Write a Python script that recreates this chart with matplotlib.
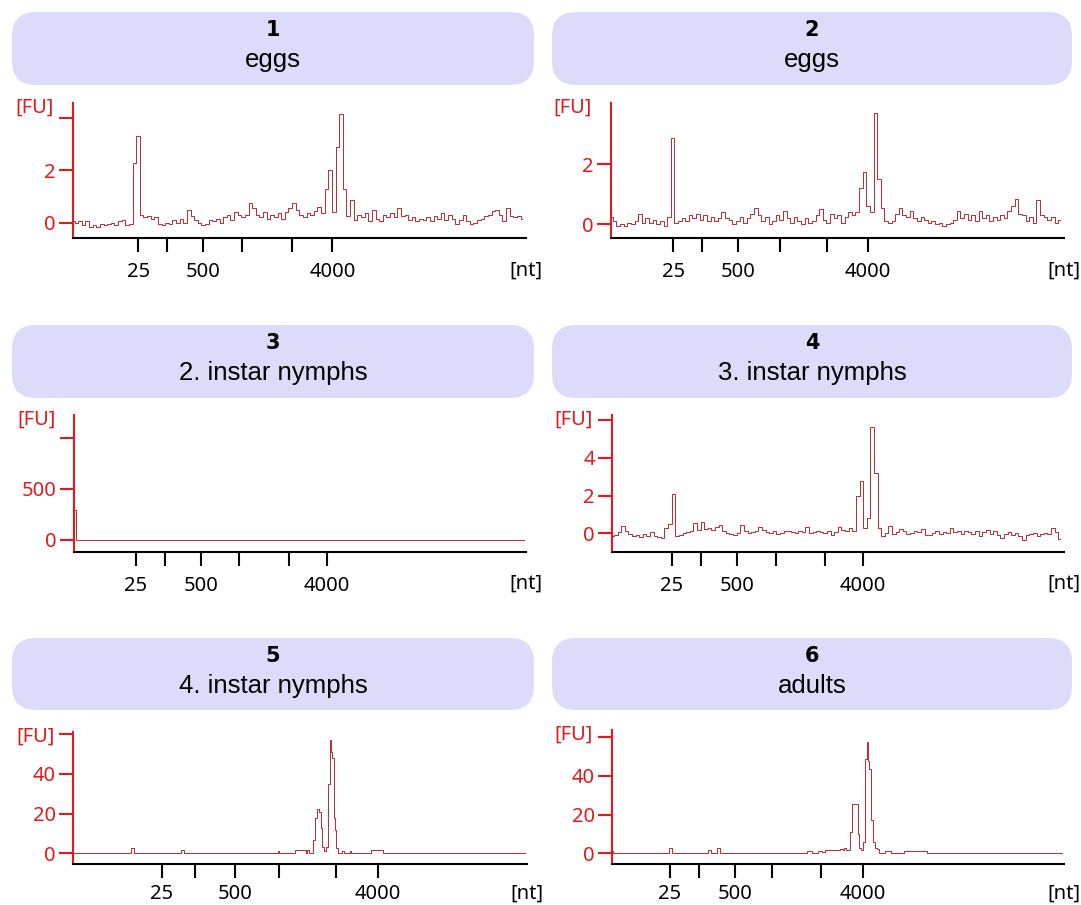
import numpy as np
import matplotlib.pyplot as plt
from matplotlib.patches import FancyBboxPatch

W, H = 1081, 905
RED = "#e3191f"
TRACE = "#bb2a34"

numbers = ["1", "2", "3", "4", "5", "6"]
titles = ["eggs", "eggs", "2. instar nymphs", "3. instar nymphs",
          "4. instar nymphs", "adults"]

# ladder ticks on the run axis (percent of run), labels 25 / 500 / 4000
xtick_labels = ["25", "", "500", "", "", "4000"]
xticks_1 = [14.5, 20.8, 28.8, 37.4, 48.3, 57.3]
xticks_2 = [13.8, 20.2, 28.1, 37.3, 47.7, 56.7]
xticks_3 = [13.6, 20.0, 28.0, 36.4, 47.5, 55.9]
xticks_4 = [13.2, 19.7, 27.6, 36.3, 47.2, 55.6]
xticks_5 = [19.5, 26.9, 35.7, 45.3, 57.9, 67.2]
xticks_6 = [12.8, 19.2, 27.1, 35.4, 46.2, 55.4]

# y axis ticks [FU]
yticks_1, ylabels_1 = [0, 2, 4], ["0", "2", ""]
yticks_2, ylabels_2 = [0, 2], ["0", "2"]
yticks_3, ylabels_3 = [0, 500, 1000], ["0", "500", ""]
yticks_4, ylabels_4 = [0, 2, 4, 6], ["0", "2", "4", ""]
yticks_5, ylabels_5 = [0, 20, 40, 60], ["0", "20", "40", ""]
yticks_6, ylabels_6 = [0, 20, 40, 60], ["0", "20", "40", ""]

# traces sampled every 0.8 % of run
STEP = 0.8
trace_1 = [0.05, 0.0, 0.05, -0.1, 0.05, -0.15, -0.1, -0.15, -0.05, -0.1,
           -0.05, 0.0, -0.1, 0.05, 0.1, -0.1, -0.05, 2.3, 3.3, 0.3,
           0.2, 0.25, 0.15, 0.2, -0.05, -0.1, 0.0, -0.05, 0.1, 0.0,
           0.15, 0.0, 0.5, 0.25, 0.1, 0.0, -0.1, -0.05, 0.1, 0.05,
           0.15, 0.0, 0.2, 0.3, 0.1, 0.4, 0.3, 0.2, 0.3, 0.75,
           0.55, 0.3, 0.2, 0.4, 0.15, 0.3, 0.2, 0.35, 0.15, 0.4,
           0.55, 0.75, 0.5, 0.3, 0.2, 0.35, 0.3, 0.45, 0.6, 0.35,
           1.3, 2.0, 0.4, 2.9, 4.15, 1.3, 0.25, 0.85, 0.1, 0.3,
           0.2, 0.35, 0.05, 0.5, 0.15, 0.05, 0.3, 0.2, 0.35, 0.2,
           0.55, 0.25, 0.3, 0.1, 0.2, 0.05, 0.15, 0.1, 0.2, 0.05,
           0.25, 0.15, 0.35, 0.1, 0.3, 0.15, -0.05, 0.1, 0.3, 0.05,
           -0.05, 0.0, 0.1, 0.15, 0.25, 0.3, 0.45, 0.5, 0.3, 0.05,
           0.55, 0.25, 0.2, 0.25, 0.15]
trace_2 = [0.25, 0.1, -0.05, 0.0, -0.05, 0.05, 0.0, 0.1, 0.35, 0.05,
           0.2, 0.05, 0.15, 0.0, 0.1, -0.05, 0.25, 2.85, 0.05, 0.1,
           0.2, 0.1, 0.3, 0.2, 0.35, 0.15, 0.3, 0.1, 0.25, 0.1,
           0.2, 0.4, 0.2, 0.15, 0.0, 0.1, 0.25, 0.05, 0.2, 0.35,
           0.55, 0.3, 0.1, 0.25, 0.0, 0.1, 0.3, 0.15, 0.45, 0.2,
           0.05, 0.25, 0.1, 0.0, 0.2, 0.05, 0.1, 0.3, 0.5, 0.15,
           0.05, 0.35, 0.2, 0.3, 0.05, 0.25, 0.4, 0.3, 0.4, 1.2,
           1.72, 0.6, 0.4, 3.7, 1.5, 0.55, 0.1, 0.05, 0.1, 0.35,
           0.55, 0.3, 0.25, 0.45, 0.2, 0.1, 0.25, 0.15, 0.05, 0.1,
           0.0, 0.05, -0.05, 0.0, 0.05, 0.15, 0.45, 0.2, 0.35, 0.15,
           0.3, 0.1, 0.45, 0.2, 0.3, 0.1, 0.25, 0.15, 0.3, 0.2,
           0.45, 0.6, 0.85, 0.35, 0.3, 0.1, 0.25, 0.05, 0.8, 0.3,
           0.25, 0.15, 0.25, 0.05, 0.15]
trace_4 = [-0.15, -0.1, 0.05, 0.4, 0.15, -0.05, -0.15, -0.1, -0.2, -0.05,
           -0.15, 0.05, -0.15, -0.2, -0.25, 0.3, 0.5, 2.1, -0.15, -0.1,
           0.0, 0.05, 0.15, 0.55, 0.2, 0.6, 0.25, 0.3, 0.2, 0.35,
           0.45, 0.1, 0.0, -0.05, -0.1, 0.0, 0.45, 0.1, 0.0, 0.05,
           0.15, 0.35, 0.2, 0.05, 0.0, 0.1, -0.05, 0.0, 0.1, 0.15,
           0.05, 0.0, 0.1, 0.05, 0.35, 0.0, 0.05, 0.15, 0.05, 0.0,
           0.1, -0.1, 0.05, 0.35, 0.2, 0.15, 0.3, 0.1, 2.0, 2.75,
           0.3, 0.8, 5.65, 3.2, 0.3, -0.15, 0.0, 0.4, -0.05, 0.05,
           0.25, 0.1, -0.05, 0.0, 0.1, 0.05, 0.25, -0.1, -0.1, 0.0,
           0.1, -0.05, 0.05, 0.0, 0.3, 0.05, 0.1, -0.05, 0.15, 0.05,
           -0.05, 0.1, -0.15, 0.05, 0.2, -0.05, 0.1, -0.1, -0.25, -0.05,
           0.05, -0.1, 0.0, -0.15, -0.35, -0.1, -0.05, 0.0, -0.15, -0.05,
           0.0, -0.05, 0.3, 0.05, -0.3]

# stepwise traces: run position where each level starts, FU level
time_3 = [0.0, 0.35, 99.5]
trace_3 = [295, 0, 0]
time_5 = [0.0, 12.7, 13.4, 23.7, 24.4, 45.1, 45.4, 48.9, 51.2, 51.5, 52.0,
          52.9, 53.3, 53.7, 54.2, 54.5, 54.8, 55.2, 55.7, 56.1, 56.5, 56.8,
          57.1, 57.4, 57.7, 58.0, 58.4, 59.2, 59.6, 60.9, 61.3, 65.6, 68.2,
          99.5]
trace_5 = [0, 2.5, 0, 1.5, 0, 1.0, 0, 1.6, 0.3, 1.6, 0,
           6.5, 18, 22.5, 21, 13, 3.3, 1.3, 3.3, 35, 57, 51,
           48, 18, 12, 2.5, 0, 1.0, 0, 1.3, 0, 1.6, 0,
           0]
time_6 = [0.0, 0.3, 12.6, 13.3, 21.2, 21.9, 23.3, 23.8, 43.1, 44.2, 45.5,
          46.5, 47.0, 50.5, 51.0, 51.3, 51.8, 52.6, 53.0, 54.3, 54.6, 55.0,
          55.5, 55.9, 56.3, 56.6, 56.9, 57.3, 57.7, 58.1, 58.5, 59.0, 59.6,
          60.4, 61.7, 64.6, 69.6, 99.5]
trace_6 = [1.4, 0, 2.6, 0, 1.7, 0, 2.6, 0, 1.4, 0, 1.4,
           0.8, 1.7, 2.2, 1.7, 2.6, 1.7, 11, 25.7, 10, 2.6, 1.7,
           6, 49, 57.5, 48, 43.7, 17, 6, 2.6, 2, 0, 0.3,
           1.4, 0, 1.4, 0, 0]

# panel layout in pixels: left, right, top, bottom of the plot area; header box
panels = [
    dict(l=72.7, r=526.0, t=103.3, b=238.3, ylim=(-0.6, 4.57), box=(12, 12, 522, 73), lab=32),
    dict(l=611.0, r=1063.6, t=103.3, b=238.3, ylim=(-0.46, 4.01), box=(552, 12, 520, 73), lab=32),
    dict(l=74.4, r=526.0, t=415.0, b=551.7, ylim=(-115, 1222), box=(12, 325, 522, 73), lab=32),
    dict(l=612.1, r=1063.6, t=415.0, b=551.7, ylim=(-0.97, 6.26), box=(552, 325, 520, 73), lab=32),
    dict(l=73.4, r=526.8, t=731.7, b=864.3, ylim=(-5.5, 61.2), box=(12, 638, 522, 72), lab=29),
    dict(l=612.1, r=1064.3, t=730.0, b=864.3, ylim=(-5.7, 63.8), box=(552, 638, 520, 72), lab=29),
]
xticks_all = [xticks_1, xticks_2, xticks_3, xticks_4, xticks_5, xticks_6]
yticks_all = [(yticks_1, ylabels_1), (yticks_2, ylabels_2), (yticks_3, ylabels_3),
              (yticks_4, ylabels_4), (yticks_5, ylabels_5), (yticks_6, ylabels_6)]

plt.rcParams["font.family"] = ["Noto Sans", "DejaVu Sans"]

fig = plt.figure(figsize=(W / 100, H / 100), dpi=100)
canvas = fig.add_axes([0, 0, 1, 1])
canvas.set_xlim(0, W)
canvas.set_ylim(H, 0)
canvas.axis("off")

axes = []
for k, p in enumerate(panels):
    bx, by, bw, bh = p["box"]
    canvas.add_patch(FancyBboxPatch((bx, by), bw, bh,
                                    boxstyle="round,pad=0,rounding_size=24",
                                    fc="#dcdcfa", ec="none"))
    cx = bx + bw / 2
    canvas.text(cx, by + 24, numbers[k], ha="center", va="baseline",
                fontsize=15, fontweight="bold", family="DejaVu Sans")
    canvas.text(cx, by + 55, titles[k], ha="center", va="baseline",
                fontsize=18.5, family="Liberation Sans")

    ax = fig.add_axes([p["l"] / W, 1 - p["b"] / H,
                       (p["r"] - p["l"]) / W, (p["b"] - p["t"]) / H])
    axes.append(ax)
    ax.set_xlim(0, 100)
    ax.set_ylim(*p["ylim"])
    for s in ("top", "right"):
        ax.spines[s].set_visible(False)
    ax.spines["left"].set_color(RED)
    ax.spines["left"].set_linewidth(1.5)
    ax.spines["bottom"].set_color("black")
    ax.spines["bottom"].set_linewidth(1.5)
    ax.set_facecolor("none")

    ax.set_xticks(xticks_all[k])
    ax.set_xticklabels(xtick_labels)
    ax.tick_params(axis="x", length=9.9, width=1.5, pad=p["lab"] - 24.5,
                   labelsize=14.5, colors="black")
    yt, yl = yticks_all[k]
    ax.set_yticks(yt)
    ax.set_yticklabels(yl)
    ax.tick_params(axis="y", length=10, width=1.5, pad=2.5, labelsize=14.5,
                   colors=RED)

    canvas.text(p["l"] - 19, p["t"] + 4.5, "[FU]", ha="right", va="center",
                color=RED, fontsize=14.5)
    canvas.text(p["r"], p["b"] + p["lab"], "[nt]", ha="center", va="center",
                color="black", fontsize=14.5)

# draw the traces
for k, tr in [(0, trace_1), (1, trace_2), (3, trace_4)]:
    x = np.arange(len(tr)) * STEP
    axes[k].plot(x, tr, color=TRACE, lw=0.7, drawstyle="steps-mid")

for k, tm, tr in [(2, time_3, trace_3), (4, time_5, trace_5), (5, time_6, trace_6)]:
    axes[k].plot(tm, tr, color=TRACE, lw=0.7, drawstyle="steps-post")

fig.savefig("out.png", dpi=100)
